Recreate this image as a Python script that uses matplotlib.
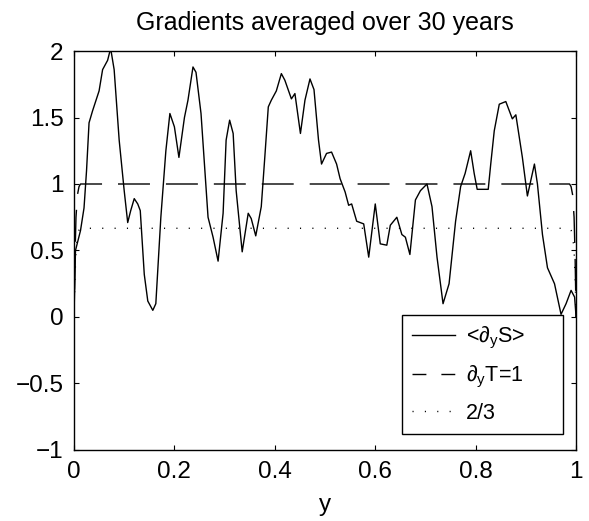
import matplotlib
matplotlib.use("Agg")
import matplotlib.pyplot as plt
from matplotlib.lines import Line2D

plt.rcParams['font.family'] = ['Liberation Sans', 'DejaVu Sans']
plt.rcParams['mathtext.fontset'] = 'custom'
plt.rcParams['mathtext.rm'] = 'Liberation Sans'
plt.rcParams['mathtext.it'] = 'Liberation Sans'

# mean salinity gradient <d_y S>
ys = [0.0, 0.003, 0.013, 0.02, 0.025, 0.03, 0.037, 0.05, 0.057, 0.067, 0.073, 0.08,
      0.09, 0.1, 0.107, 0.113, 0.12, 0.127, 0.132, 0.14, 0.147, 0.157, 0.163, 0.173,
      0.183, 0.191, 0.2, 0.209, 0.22, 0.227, 0.237, 0.243, 0.253, 0.267, 0.277, 0.287,
      0.297, 0.303, 0.31, 0.317, 0.323, 0.335, 0.347, 0.353, 0.362, 0.373, 0.38, 0.387,
      0.393, 0.403, 0.413, 0.42, 0.433, 0.44, 0.451, 0.46, 0.47, 0.478, 0.487, 0.493,
      0.503, 0.513, 0.523, 0.53, 0.54, 0.547, 0.553, 0.563, 0.577, 0.587, 0.6, 0.61,
      0.623, 0.63, 0.643, 0.653, 0.66, 0.669, 0.68, 0.69, 0.703, 0.713, 0.723, 0.735,
      0.747, 0.76, 0.77, 0.779, 0.79, 0.797, 0.803, 0.813, 0.825, 0.83, 0.837, 0.847,
      0.86, 0.873, 0.88, 0.893, 0.903, 0.917, 0.923, 0.933, 0.943, 0.957, 0.97, 0.98,
      0.99, 0.997, 1.0]
dS = [0.0, 0.5, 0.65, 0.82, 1.1, 1.46, 1.55, 1.7, 1.86, 1.93, 2.02, 1.86,
      1.33, 0.95, 0.71, 0.8, 0.89, 0.85, 0.8, 0.32, 0.12, 0.05, 0.1, 0.75,
      1.25, 1.53, 1.43, 1.2, 1.5, 1.63, 1.88, 1.84, 1.53, 0.75, 0.6, 0.42,
      0.78, 1.33, 1.48, 1.38, 0.95, 0.49, 0.78, 0.74, 0.61, 0.83, 1.2, 1.58,
      1.63, 1.7, 1.83, 1.78, 1.64, 1.68, 1.38, 1.63, 1.79, 1.71, 1.33, 1.15,
      1.23, 1.24, 1.15, 1.04, 0.94, 0.84, 0.85, 0.72, 0.7, 0.45, 0.85, 0.55,
      0.54, 0.69, 0.75, 0.62, 0.6, 0.47, 0.88, 0.95, 1.0, 0.83, 0.45, 0.1,
      0.25, 0.72, 0.98, 1.08, 1.25, 1.08, 0.96, 0.96, 0.96, 1.15, 1.4, 1.6,
      1.62, 1.49, 1.52, 1.2, 0.91, 1.15, 1.0, 0.62, 0.37, 0.25, 0.02, 0.1,
      0.2, 0.15, 0.0]

# temperature gradient profile (=1 in interior)
yT = [0, 0.002, 0.004, 0.007, 0.01, 0.013, 0.987, 0.99, 0.993, 0.996, 0.998, 1]
dT = [0, 0.45, 0.75, 0.92, 0.98, 1, 1, 0.98, 0.92, 0.75, 0.45, 0]

# 2/3 reference profile
y23 = [0, 0.002, 0.004, 0.007, 0.01, 0.013, 0.987, 0.99, 0.993, 0.996, 0.998, 1]
v23 = [0, 0.30, 0.50, 0.613, 0.653, 0.667, 0.667, 0.653, 0.613, 0.50, 0.30, 0]

labels = [r'<∂$_\mathrm{y}$S>', r'∂$_\mathrm{y}$T=1', '2/3']
xtick_vals = [0, 0.2, 0.4, 0.6, 0.8, 1]
xtick_labels = ['0', '0.2', '0.4', '0.6', '0.8', '1']
ytick_vals = [-1, -0.5, 0, 0.5, 1, 1.5, 2]
ytick_labels = ['\u22121', '\u22120.5', '0', '0.5', '1', '1.5', '2']

fig = plt.figure(figsize=(5.89, 5.21), dpi=100)
ax = fig.add_axes([0.1256, 0.1363, 0.8525, 0.7658])

ax.plot(ys, dS, color='black', lw=1.0)
ax.plot(yT, dT, color='black', lw=1.0, linestyle=(14.8, (23, 11.5)))
ax.plot(y23, v23, color='black', lw=1.0, linestyle=(0, (0.8, 8.1)))

ax.set_xlim(0, 1)
ax.set_ylim(-1, 2)
ax.set_xticks(xtick_vals)
ax.set_xticklabels(xtick_labels)
ax.set_yticks(ytick_vals)
ax.set_yticklabels(ytick_labels)
ax.tick_params(direction='in', top=True, right=True, length=3.6, width=0.8,
               labelsize=17.5)
ax.tick_params(axis='y', pad=7.5)
ax.tick_params(axis='x', pad=8)
for s in ax.spines.values():
    s.set_linewidth(1.0)

ax.set_title('Gradients averaged over 30 years', fontsize=18, pad=15)
ax.set_xlabel('y', fontsize=17.5, labelpad=8)

handles = [Line2D([], [], color='black', lw=1.0),
           Line2D([], [], color='black', lw=1.0, linestyle=(0, (10, 10.8))),
           Line2D([], [], color='black', lw=1.0, linestyle=(0, (0.8, 8.1)))]
leg = ax.legend(handles, labels, loc='upper left',
                bbox_to_anchor=(0.653, 0.0426, 0.3205, 0.2954),
                mode='expand', borderaxespad=0, fontsize=15.5, fancybox=False,
                framealpha=1, edgecolor='black', handlelength=2.0,
                handletextpad=0.54, labelspacing=0.6, borderpad=0.45)
leg.get_frame().set_linewidth(1.0)

fig.savefig('out.png', dpi=100)
